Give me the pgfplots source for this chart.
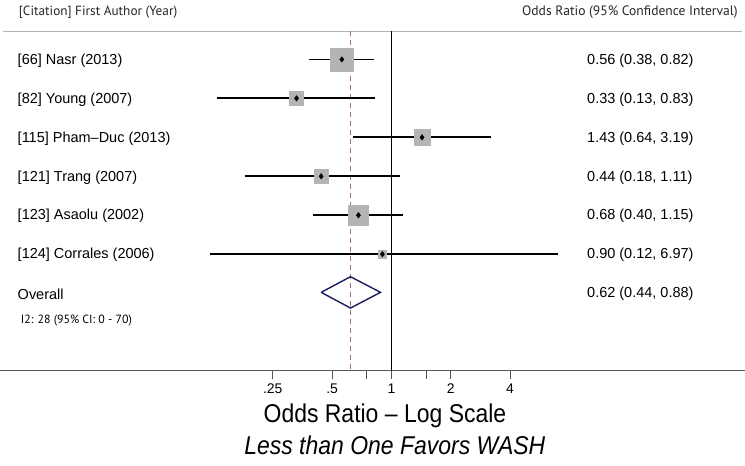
\documentclass[border=0pt]{standalone}
\usepackage{pgfplots}
\pgfplotsset{compat=1.18}
\usepackage{pgfplotstable}
\usepackage{fontspec}
\setmainfont{Liberation Sans}
\newfontfamily\hdr{PT Sans}
\definecolor{boxgray}{HTML}{B4B4B4}
\definecolor{refred}{HTML}{A86E78}
\definecolor{navyd}{HTML}{1C1C64}
\definecolor{axgray}{HTML}{555555}

\pgfplotstableread{
y or lo hi
59.5 0.56 0.38 0.82
98.5 0.33 0.13 0.83
137.5 1.43 0.64 3.19
176.5 0.44 0.18 1.11
215.5 0.68 0.40 1.15
254.5 0.90 0.12 6.97
}\studies

\begin{document}
\begin{tikzpicture}
\begin{axis}[
  scale only axis, width=745pt, height=341pt,
  xmode=log, log basis x=2,
  xmin=0.01038, xmax=61.9,
  ymin=30, ymax=371, y dir=reverse,
  axis x line=bottom, axis y line=none,
  x axis line style={draw=axgray, line width=0.9pt, -},
  xtick={0.25,0.5,1,2,4}, xticklabels={.25,.5,1,2,4},
  extra x ticks={0.75,1.5}, extra x tick labels={},
  major tick length=8pt,
  tick align=outside,
  tick style={draw=axgray, line width=0.8pt},
  xticklabel style={font=\fontsize{14}{16}\selectfont, inner sep=2pt, yshift=-3pt},
  clip=false,
]
% bounding box
\path (axis cs:0.01038,0) rectangle (axis cs:61.9,466);
% top line
\addplot[boxgray, line width=0.9pt] coordinates {(0.0107,31) (60,31)};
% reference lines
\addplot[refred, line width=1.5pt, dash pattern=on 5.5pt off 3.5pt] coordinates {(0.62,31) (0.62,371)};
\addplot[black, line width=1pt] coordinates {(1,31) (1,371)};
% weight squares (size proportional to study weight)
\addplot[only marks, mark=square*, mark size=11.4pt, boxgray, mark options={draw=boxgray, fill=boxgray}] coordinates {(0.56,59.5)};
\addplot[only marks, mark=square*, mark size=7pt, boxgray, mark options={draw=boxgray, fill=boxgray}] coordinates {(0.33,98.5)};
\addplot[only marks, mark=square*, mark size=7.7pt, boxgray, mark options={draw=boxgray, fill=boxgray}] coordinates {(1.43,137.5)};
\addplot[only marks, mark=square*, mark size=7pt, boxgray, mark options={draw=boxgray, fill=boxgray}] coordinates {(0.44,176.5)};
\addplot[only marks, mark=square*, mark size=10pt, boxgray, mark options={draw=boxgray, fill=boxgray}] coordinates {(0.68,215.5)};
\addplot[only marks, mark=square*, mark size=3.8pt, boxgray, mark options={draw=boxgray, fill=boxgray}] coordinates {(0.90,254.5)};
% confidence intervals
\addplot[black, line width=1.8pt] coordinates {(0.38,59.5) (0.82,59.5)};
\addplot[black, line width=1.8pt] coordinates {(0.13,98.5) (0.83,98.5)};
\addplot[black, line width=1.8pt] coordinates {(0.64,137.5) (3.19,137.5)};
\addplot[black, line width=1.8pt] coordinates {(0.18,176.5) (1.11,176.5)};
\addplot[black, line width=1.8pt] coordinates {(0.40,215.5) (1.15,215.5)};
\addplot[black, line width=1.8pt] coordinates {(0.12,254.5) (6.97,254.5)};
% point estimates
\addplot[only marks, mark=diamond*, mark size=2.8pt, black] table[x=or, y=y] {\studies};
% overall diamond
\addplot[navyd, line width=1.4pt, line join=miter] coordinates {(0.44,292.7) (0.62,277) (0.88,292.7) (0.62,308.4) (0.44,292.7)};
% header
\node[anchor=west, font=\hdr\fontsize{13.3}{16}\selectfont, text=black!85] at (axis cs:0.01236,12.5) {[Citation] First Author (Year)};
\node[anchor=east, font=\hdr\fontsize{13.6}{16}\selectfont, text=black!85] at (axis cs:59.5,12.5) {Odds Ratio (95\% Confidence Interval)};
% study labels
\begin{scope}[every node/.style={anchor=west, font=\fontsize{14.5}{17}\selectfont}]
\node at (axis cs:0.01219,60.5) {[66] Nasr (2013)};
\node at (axis cs:0.01219,99.5) {[82] Young (2007)};
\node at (axis cs:0.01219,138.5) {[115] Pham{\textendash}Duc (2013)};
\node at (axis cs:0.01219,177.5) {[121] Trang (2007)};
\node at (axis cs:0.01219,216.5) {[123] Asaolu (2002)};
\node at (axis cs:0.01219,255.5) {[124] Corrales (2006)};
\node at (axis cs:0.01219,294.5) {Overall};
\node at (axis cs:9.45,60.5) {0.56 (0.38, 0.82)};
\node at (axis cs:9.45,99.5) {0.33 (0.13, 0.83)};
\node at (axis cs:9.45,138.5) {1.43 (0.64, 3.19)};
\node at (axis cs:9.45,177.5) {0.44 (0.18, 1.11)};
\node at (axis cs:9.45,216.5) {0.68 (0.40, 1.15)};
\node at (axis cs:9.45,255.5) {0.90 (0.12, 6.97)};
\node at (axis cs:9.45,294.5) {0.62 (0.44, 0.88)};
\end{scope}
\node[anchor=west, font=\hdr\fontsize{11.9}{14}\selectfont] at (axis cs:0.01265,321) {I2: 28 (95\% CI: 0 - 70)};
% axis titles
\node[font=\fontsize{23}{26}\selectfont, yscale=1.12] at (axis cs:0.927,416) {Odds Ratio {\textendash} Log Scale};
\node[font=\fontsize{23}{26}\selectfont\itshape, yscale=1.12] at (axis cs:1.04,446) {Less than One Favors WASH};
\end{axis}
\end{tikzpicture}
\end{document}
